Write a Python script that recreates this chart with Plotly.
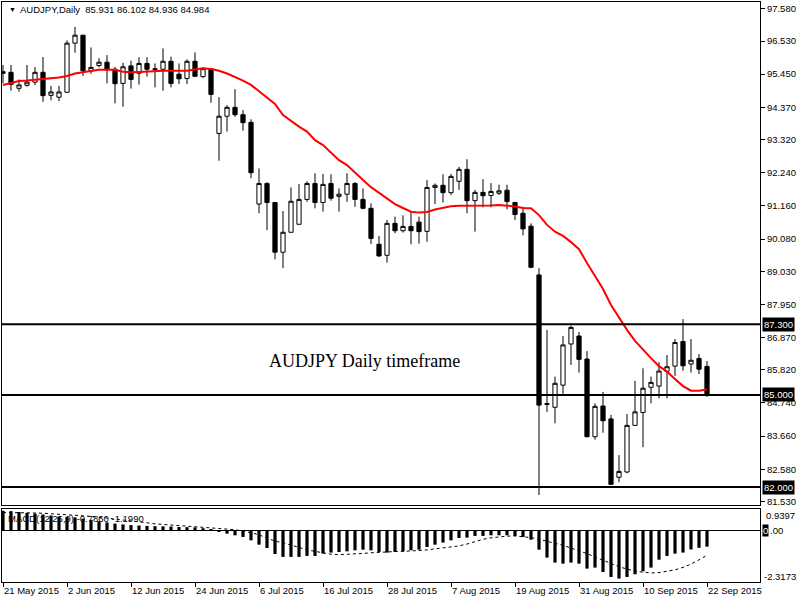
import numpy as np
import plotly.graph_objects as go

# daily AUDJPY bars, 21 May 2015 -> 22 Sep 2015
opens = [95.53, 95.51, 94.99, 95.09, 95.19, 95.51, 94.76, 94.70, 94.86, 96.46,
         96.72, 95.56, 95.73, 95.84, 95.61, 95.15, 95.72, 95.48, 95.80, 95.60,
         95.61, 95.87, 95.45, 95.31, 95.87, 95.37, 95.63, 93.52, 94.08, 94.37,
         94.13, 93.88, 91.22, 91.89, 91.27, 89.65, 90.30, 90.56, 91.37, 91.89,
         91.27, 91.89, 91.47, 91.54, 91.89, 91.37, 91.08, 89.91, 89.55, 90.59,
         90.35, 90.49, 90.63, 90.33, 91.76, 91.83, 91.59, 91.96, 92.35, 91.33,
         91.60, 91.50, 91.57, 91.67, 91.27, 90.92, 90.50, 88.91, 84.69, 84.60,
         85.32, 86.66, 86.92, 86.17, 83.64, 84.64, 84.22, 82.32, 82.49, 84.01,
         84.43, 85.25, 85.29, 85.77, 85.94, 86.74, 86.01, 86.19, 85.931]
highs = [95.75, 95.75, 95.28, 95.75, 95.68, 96.01, 95.07, 95.07, 96.55, 96.99,
         96.72, 96.32, 95.97, 96.07, 95.69, 95.82, 95.89, 96.00, 96.00, 95.80,
         96.29, 96.02, 95.80, 95.93, 96.16, 95.67, 95.65, 94.70, 94.44, 94.96,
         94.28, 93.98, 92.38, 91.93, 91.27, 90.99, 91.76, 91.87, 91.96, 92.22,
         92.20, 92.19, 91.73, 92.22, 91.93, 91.73, 91.24, 90.18, 90.70, 90.81,
         90.85, 90.97, 90.81, 92.00, 91.89, 92.19, 92.20, 92.43, 92.68, 91.68,
         92.03, 91.90, 91.85, 91.85, 91.29, 91.13, 90.59, 89.13, 87.12, 85.60,
         86.92, 87.26, 87.05, 86.43, 84.73, 85.10, 84.35, 83.04, 84.38, 85.46,
         85.87, 85.60, 86.07, 86.30, 86.82, 87.47, 86.82, 86.33, 86.102]
lows = [95.15, 94.91, 94.88, 95.04, 95.09, 94.55, 94.60, 94.57, 94.86, 96.15,
        95.39, 95.46, 95.67, 95.15, 94.50, 94.39, 94.98, 95.11, 95.37, 95.02,
        94.91, 95.02, 95.13, 95.13, 95.37, 95.32, 94.52, 92.63, 93.58, 94.06,
        93.61, 92.06, 90.92, 90.37, 89.42, 89.13, 90.30, 90.56, 91.29, 91.08,
        90.97, 91.33, 90.97, 91.29, 91.13, 91.05, 89.92, 89.50, 89.31, 90.27,
        90.29, 89.91, 89.93, 89.99, 91.22, 91.27, 91.51, 91.68, 90.92, 90.32,
        91.11, 91.11, 91.52, 91.05, 90.70, 90.20, 89.13, 81.74, 84.45, 84.08,
        84.98, 85.98, 85.73, 83.62, 83.54, 83.77, 82.07, 82.16, 82.45, 84.01,
        83.30, 84.73, 84.89, 84.89, 85.62, 85.79, 85.73, 85.68, 84.936]
closes = [95.48, 95.12, 95.10, 95.19, 95.51, 94.75, 94.87, 94.87, 96.46, 96.72,
          95.56, 95.67, 95.84, 95.59, 95.14, 95.69, 95.28, 95.80, 95.61, 95.62,
          95.87, 95.15, 95.30, 95.87, 95.38, 95.63, 94.79, 94.08, 94.37, 94.13,
          93.87, 92.24, 91.89, 91.27, 89.65, 90.30, 91.31, 91.37, 91.89, 91.27,
          91.86, 91.41, 91.54, 91.89, 91.37, 91.08, 90.10, 89.53, 90.59, 90.35,
          90.49, 90.35, 90.32, 91.76, 91.83, 91.59, 92.12, 92.35, 91.33, 91.60,
          91.49, 91.63, 91.65, 91.30, 90.88, 90.41, 89.16, 84.67, 84.72, 85.38,
          86.63, 87.20, 86.16, 83.64, 84.63, 84.16, 82.09, 82.51, 84.01, 84.45,
          85.22, 85.41, 85.78, 85.92, 86.71, 85.95, 86.13, 85.84, 84.984]

# red moving average
ma = [95.10, 95.16, 95.23, 95.24, 95.26, 95.29, 95.31, 95.34, 95.39, 95.47,
      95.51, 95.55, 95.59, 95.59, 95.59, 95.53, 95.51, 95.52, 95.54, 95.55,
      95.56, 95.56, 95.56, 95.56, 95.60, 95.64, 95.62, 95.56, 95.47, 95.36,
      95.24, 95.10, 94.90, 94.69, 94.48, 94.12, 93.92, 93.74, 93.58, 93.30,
      93.14, 92.88, 92.65, 92.49, 92.23, 92.00, 91.77, 91.58, 91.40, 91.22,
      91.09, 90.97, 90.94, 90.96, 91.04, 91.10, 91.15, 91.16, 91.16, 91.16,
      91.16, 91.17, 91.19, 91.17, 91.14, 91.09, 91.08, 90.86, 90.54, 90.32,
      90.18, 89.98, 89.75, 89.30, 88.87, 88.45, 87.93, 87.51, 87.12, 86.76,
      86.47, 86.20, 85.94, 85.76, 85.52, 85.29, 85.14, 85.14, 85.18]

# MACD(12,26,9) histogram and signal
macd = [0.9397, 0.92, 0.88, 0.84, 0.80, 0.76, 0.71, 0.66, 0.64, 0.62,
        0.56, 0.50, 0.44, 0.38, 0.32, 0.28, 0.25, 0.23, 0.21, 0.20,
        0.19, 0.18, 0.16, 0.15, 0.14, 0.10, 0.03, -0.08, -0.16, -0.24,
        -0.32, -0.48, -0.69, -0.85, -1.14, -1.28, -1.28, -1.28, -1.23, -1.23,
        -1.12, -1.07, -1.04, -1.01, -0.96, -0.93, -0.96, -1.04, -1.07, -1.04,
        -1.01, -0.96, -0.93, -0.80, -0.69, -0.59, -0.48, -0.37, -0.35, -0.27,
        -0.27, -0.24, -0.24, -0.24, -0.27, -0.32, -0.45, -0.93, -1.31, -1.55,
        -1.60, -1.55, -1.60, -1.84, -1.79, -2.00, -2.24, -2.3173, -2.24, -2.11,
        -1.97, -1.79, -1.41, -1.23, -1.12, -1.07, -0.92, -0.84, -0.786]
signal = [0.86, 0.86, 0.85, 0.84, 0.83, 0.82, 0.80, 0.78, 0.76, 0.73,
          0.70, 0.67, 0.63, 0.59, 0.54, 0.49, 0.44, 0.40, 0.36, 0.31,
          0.28, 0.25, 0.22, 0.20, 0.17, 0.15, 0.11, 0.08, 0.06, 0.03,
          -0.04, -0.11, -0.22, -0.36, -0.52, -0.60, -0.70, -0.82, -0.94, -1.01,
          -1.10, -1.15, -1.17, -1.16, -1.13, -1.11, -1.08, -1.05, -1.03, -1.02,
          -1.01, -1.00, -0.97, -0.94, -0.89, -0.85, -0.80, -0.75, -0.66, -0.53,
          -0.43, -0.36, -0.31, -0.28, -0.27, -0.30, -0.35, -0.43, -0.52, -0.62,
          -0.72, -0.85, -0.98, -1.12, -1.28, -1.44, -1.60, -1.75, -1.86, -1.96,
          -2.01, -2.05, -2.03, -1.98, -1.90, -1.78, -1.62, -1.42, -1.199]

levels = [87.300, 85.000, 82.000]
price_ticks = [97.580, 96.530, 95.450, 94.370, 93.320, 92.240, 91.160, 90.080,
               89.030, 87.950, 86.870, 85.820, 84.740, 83.660, 82.580, 81.530]
date_ticks = [0, 8, 16, 24, 32, 40, 48, 56, 64, 72, 80, 88]
date_labels = ["21 May 2015", "2 Jun 2015", "12 Jun 2015", "24 Jun 2015",
               "6 Jul 2015", "16 Jul 2015", "28 Jul 2015", "7 Aug 2015",
               "19 Aug 2015", "31 Aug 2015", "10 Sep 2015", "22 Sep 2015"]

bars = np.arange(len(closes))

W, H = 800, 600
def px_x(p):
    return p / W
def px_y(p):
    return 1 - p / H

font = "Liberation Sans"
fig = go.Figure()

fig.add_trace(go.Candlestick(
    x=bars, open=opens, high=highs, low=lows, close=closes,
    increasing=dict(line=dict(color="black", width=1), fillcolor="white"),
    decreasing=dict(line=dict(color="black", width=1), fillcolor="black"),
    xaxis="x", yaxis="y", hoverinfo="skip"))
fig.add_trace(go.Scatter(x=bars, y=ma, mode="lines",
                         line=dict(color="#ff0000", width=2),
                         xaxis="x", yaxis="y"))
fig.add_trace(go.Bar(x=bars, y=macd, width=0.4, marker_color="black",
                     marker_line_width=0, xaxis="x2", yaxis="y2"))
fig.add_trace(go.Scatter(x=bars, y=signal, mode="lines",
                         line=dict(color="black", width=1, dash="dot"),
                         xaxis="x2", yaxis="y2"))

for lv in levels:
    fig.add_shape(type="line", xref="paper", yref="y",
                  x0=px_x(2), x1=px_x(760), y0=lv, y1=lv,
                  line=dict(color="black", width=2))

def note(x, y, text, size=9.5, color="black", yref="paper", **kw):
    d = dict(x=x, y=y, xref="paper", yref=yref, text=text,
             font=dict(size=size, color=color, family=kw.pop("family", font)),
             xanchor=kw.pop("xanchor", "left"), yanchor="middle", showarrow=False)
    d.update(kw)
    return d

annots = [
    note(px_x(7), px_y(9), "▼", size=7),
    note(px_x(18), px_y(9), "AUDJPY,Daily  %.3f %.3f %.3f %.3f"
         % (opens[-1], highs[-1], lows[-1], closes[-1])),
    note(px_x(364), px_y(361), "AUDJPY Daily timeframe", size=18,
         family="Liberation Serif", xanchor="center"),
    note(px_x(6), px_y(518), "MACD(12,26,9) %.4f %.4f" % (macd[-1], signal[-1])),
    note(px_x(764), px_y(515), "%.4f" % max(macd)),
    note(px_x(762), px_y(576), "%.4f" % min(macd)),
    note(px_x(762), px_y(530), "0", color="white", bgcolor="black", borderpad=0),
    note(px_x(768), px_y(530), ".00"),
]
for lv in levels:
    annots.append(note(px_x(762), lv, "%.3f" % lv, color="white", yref="y",
                       bgcolor="black", borderpad=1))

axis_common = dict(showline=True, mirror=True, linecolor="black", linewidth=1,
                   showgrid=False, zeroline=False, automargin=False)

fig.update_layout(
    template="none",
    width=W, height=H,
    margin=dict(l=0, r=0, t=0, b=0),
    paper_bgcolor="white", plot_bgcolor="white",
    showlegend=False,
    boxgap=0.25,
    annotations=annots,
    xaxis=dict(domain=[px_x(2), px_x(760)], range=[-0.125, 94.625], anchor="y",
               showticklabels=False, ticks="", rangeslider=dict(visible=False),
               **axis_common),
    xaxis2=dict(domain=[px_x(2), px_x(760)], matches="x", anchor="y2",
                tickmode="array", tickvals=date_ticks, ticktext=date_labels,
                ticks="outside", ticklen=4, tickcolor="black",
                ticklabelposition="outside right",
                tickfont=dict(size=9.5, color="black", family=font),
                rangeslider=dict(visible=False),
                **axis_common),
    yaxis=dict(domain=[px_y(505), px_y(1.5)], range=[81.416, 97.817], anchor="x",
               side="right", tickmode="array", tickvals=price_ticks,
               ticktext=["%.3f" % t for t in price_ticks],
               ticks="outside", ticklen=4, tickcolor="black",
               tickfont=dict(size=9.5, color="black", family=font),
               **axis_common),
    yaxis2=dict(domain=[px_y(582), px_y(509)], range=[-2.482, 1.023], anchor="x2",
                side="right", showticklabels=False, ticks="",
                showline=True, mirror=True, linecolor="black", linewidth=1,
                showgrid=False, zeroline=True, zerolinecolor="black",
                zerolinewidth=1, automargin=False),
)

# page margin off so the 800x600 figure fills the window
fig.write_html("out.html", config={"displayModeBar": False},
               post_script="document.body.style.margin='0px';")
